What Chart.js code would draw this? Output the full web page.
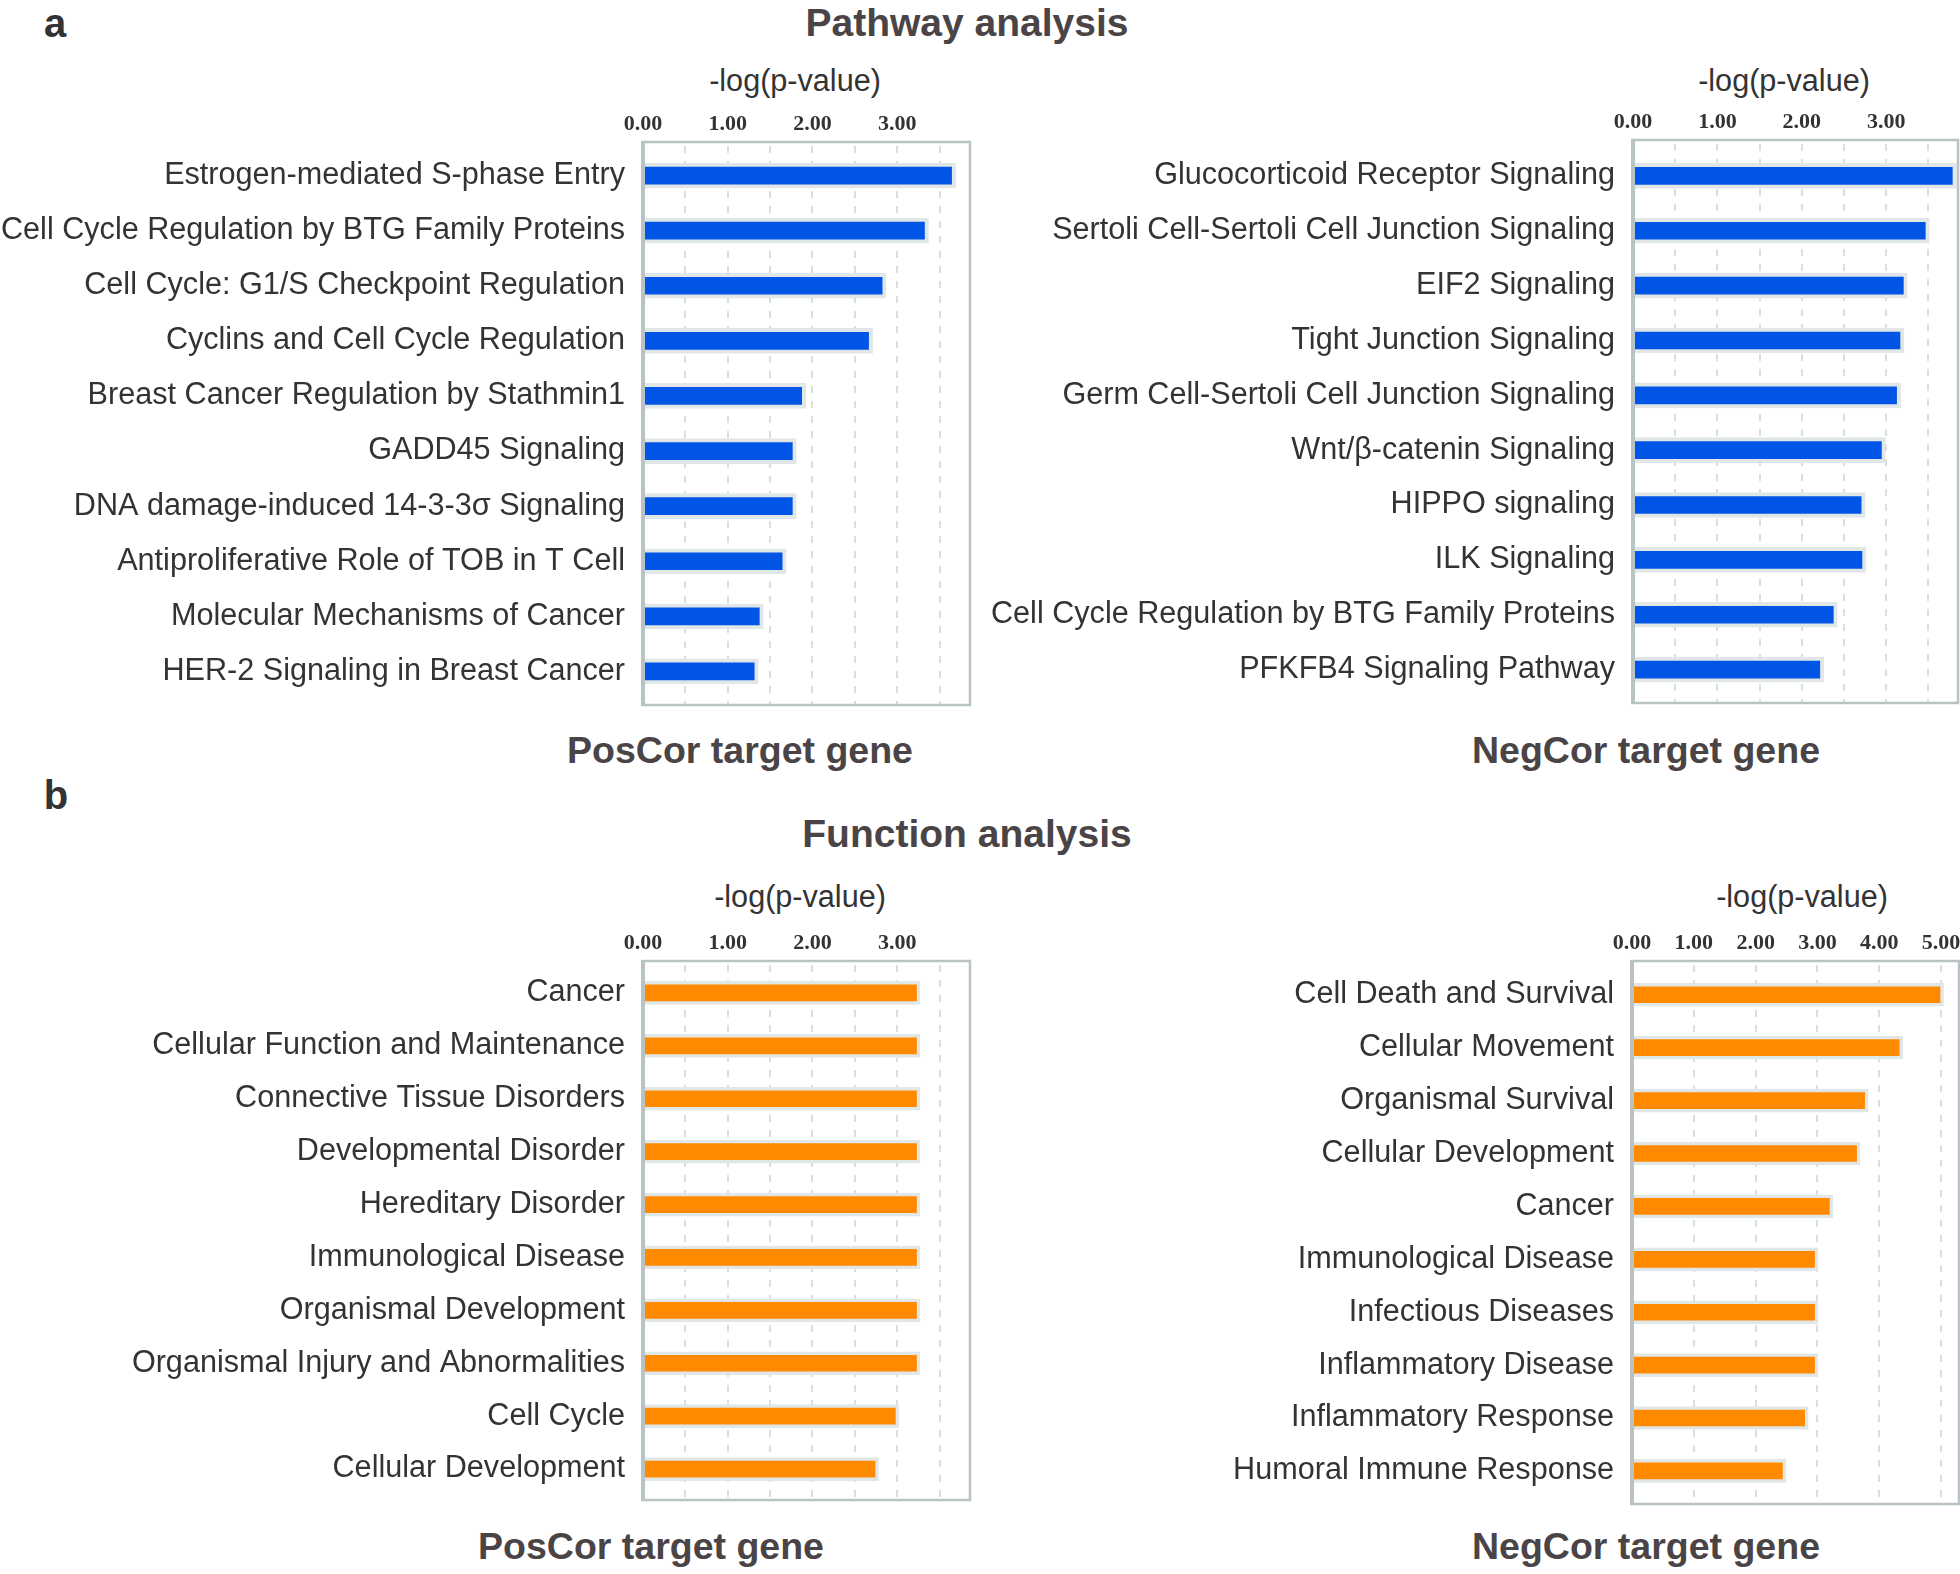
<!DOCTYPE html>
<html>
<head>
<meta charset="utf-8">
<script src="https://cdn.jsdelivr.net/npm/chart.js@4.4.1/dist/chart.umd.min.js"></script>
<style>
  body { margin: 0; background: #fff; }
  #page { position: relative; width: 1960px; height: 1574px; overflow: hidden; font-family: 'Liberation Sans', Arial, sans-serif; }
  canvas { position: absolute; }
  .txt { position: absolute; transform: translate(-50%, -50%); white-space: nowrap; color: #4a4446; font-weight: bold; }
  .panel { font-size: 40px; color: #333; }
  .head { font-size: 39px; }
  .sub { font-size: 37.5px; }
  .axt { font-size: 30.6px; font-weight: normal; color: #333; }
</style>
</head>
<body>
<div id="page">
  <div class="txt panel" style="left:55px;top:23px">a</div>
  <div class="txt head" style="left:967px;top:23px">Pathway analysis</div>
  <div class="txt axt" style="left:795px;top:80px">-log(p-value)</div>
  <div class="txt axt" style="left:1784px;top:80px">-log(p-value)</div>
  <div class="txt sub" style="left:740px;top:750px">PosCor target gene</div>
  <div class="txt sub" style="left:1646px;top:750px">NegCor target gene</div>
  <div class="txt panel" style="left:56px;top:795px">b</div>
  <div class="txt head" style="left:967px;top:834px">Function analysis</div>
  <div class="txt axt" style="left:800px;top:896px">-log(p-value)</div>
  <div class="txt axt" style="left:1802px;top:896px">-log(p-value)</div>
  <div class="txt sub" style="left:651px;top:1546px">PosCor target gene</div>
  <div class="txt sub" style="left:1646px;top:1546px">NegCor target gene</div>

  <canvas id="pathPos" width="980" height="680" style="left:0;top:40px"></canvas>
  <canvas id="pathNeg" width="980" height="680" style="left:980px;top:40px"></canvas>
  <canvas id="funcPos" width="980" height="660" style="left:0;top:860px"></canvas>
  <canvas id="funcNeg" width="980" height="660" style="left:980px;top:860px"></canvas>
</div>
<script>
'use strict';

// a: pathway analysis
const pathPosLabels = ['Estrogen-mediated S-phase Entry', 'Cell Cycle Regulation by BTG Family Proteins',
  'Cell Cycle: G1/S Checkpoint Regulation', 'Cyclins and Cell Cycle Regulation',
  'Breast Cancer Regulation by Stathmin1', 'GADD45 Signaling', 'DNA damage-induced 14-3-3σ Signaling',
  'Antiproliferative Role of TOB in T Cell', 'Molecular Mechanisms of Cancer', 'HER-2 Signaling in Breast Cancer'];
const pathPosValues = [3.69, 3.37, 2.87, 2.71, 1.92, 1.81, 1.81, 1.69, 1.42, 1.36];

const pathNegLabels = ['Glucocorticoid Receptor Signaling', 'Sertoli Cell-Sertoli Cell Junction Signaling',
  'EIF2 Signaling', 'Tight Junction Signaling', 'Germ Cell-Sertoli Cell Junction Signaling',
  'Wnt/β-catenin Signaling', 'HIPPO signaling', 'ILK Signaling',
  'Cell Cycle Regulation by BTG Family Proteins', 'PFKFB4 Signaling Pathway'];
const pathNegValues = [3.83, 3.51, 3.25, 3.21, 3.17, 2.99, 2.75, 2.76, 2.42, 2.26];

// b: function analysis
const funcPosLabels = ['Cancer', 'Cellular Function and Maintenance', 'Connective Tissue Disorders',
  'Developmental Disorder', 'Hereditary Disorder', 'Immunological Disease', 'Organismal Development',
  'Organismal Injury and Abnormalities', 'Cell Cycle', 'Cellular Development'];
const funcPosValues = [3.27, 3.27, 3.27, 3.27, 3.27, 3.27, 3.27, 3.27, 3.02, 2.78];

const funcNegLabels = ['Cell Death and Survival', 'Cellular Movement', 'Organismal Survival',
  'Cellular Development', 'Cancer', 'Immunological Disease', 'Infectious Diseases',
  'Inflammatory Disease', 'Inflammatory Response', 'Humoral Immune Response'];
const funcNegValues = [5.04, 4.38, 3.82, 3.69, 3.25, 3.01, 3.01, 3.01, 2.85, 2.49];

const BLUE = '#0055e6';
const ORANGE = '#ff8a00';
const sans = "'Liberation Sans', Arial, sans-serif";

// the box sits a few px outside the bar band, so grid + frame are drawn here
const framePlugin = {
  id: 'frame',
  beforeDatasetsDraw(chart, args, opts) {
    const a = chart.chartArea;
    const ctx = chart.ctx;
    const top = a.top - opts.insetTop, bottom = a.bottom + opts.insetBottom;
    const x = chart.scales.x;
    ctx.save();
    ctx.strokeStyle = '#d9dfdf';
    ctx.lineWidth = 2;
    ctx.setLineDash([7, 8]);
    x.ticks.forEach(t => {
      if (t.value === 0) return;
      const px = Math.round(x.getPixelForValue(t.value));
      ctx.beginPath();
      ctx.moveTo(px, top + 4);
      ctx.lineTo(px, bottom);
      ctx.stroke();
    });
    ctx.restore();
  },
  afterDraw(chart, args, opts) {
    const a = chart.chartArea;
    const ctx = chart.ctx;
    const top = a.top - opts.insetTop, bottom = a.bottom + opts.insetBottom;
    ctx.save();
    ctx.strokeStyle = '#b9c3c3';
    ctx.lineWidth = 2.5;
    ctx.strokeRect(a.left, top, a.right - a.left, bottom - top);
    ctx.lineWidth = 4;
    ctx.beginPath();
    ctx.moveTo(a.left, top - 1);
    ctx.lineTo(a.left, bottom + 1);
    ctx.stroke();
    ctx.restore();
  }
};

function makeChart(id, labels, values, color, p) {
  return new Chart(document.getElementById(id), {
    type: 'bar',
    data: {
      labels: labels,
      datasets: [{
        data: values,
        backgroundColor: color,
        borderColor: '#e1e6e6',
        borderWidth: p.border,
        borderSkipped: 'start',
        barThickness: p.thick
      }]
    },
    options: {
      indexAxis: 'y',
      responsive: false,
      animation: false,
      layout: { padding: { top: 0, left: 0, right: p.right, bottom: p.bottom } },
      plugins: {
        legend: { display: false },
        tooltip: { enabled: false },
        frame: { insetTop: p.insetTop, insetBottom: p.insetBottom }
      },
      scales: {
        x: {
          position: 'top',
          min: 0,
          max: p.max,
          grid: { display: false, drawTicks: false },
          border: { display: false },
          ticks: {
            stepSize: p.step,
            includeBounds: false,
            autoSkip: false,
            maxRotation: 0,
            padding: 4 + p.insetTop,
            color: '#333',
            font: { family: "'Liberation Serif', 'Times New Roman', serif", size: 22, weight: 'bold' },
            callback: v => Number.isInteger(v) ? v.toFixed(2) : ''
          },
          afterFit: s => { s.height = p.top; s.paddingLeft = 0; s.paddingRight = 0; }
        },
        y: {
          grid: { display: false, drawTicks: false },
          border: { display: false },
          ticks: {
            autoSkip: false,
            padding: 18,
            color: '#333',
            font: { family: sans, size: 30.6 }
          },
          afterFit: s => { s.width = p.left; s.paddingTop = 0; s.paddingBottom = 0; }
        }
      }
    },
    plugins: [framePlugin]
  });
}

// top = band top inside canvas, bottom = padding under band
makeChart('pathPos', pathPosLabels, pathPosValues, BLUE,
  { left: 643, top: 108, insetTop: 6, insetBottom: 6, right: 10, bottom: 21, max: 3.86, step: 0.5, thick: 25, border: 4 });
makeChart('pathNeg', pathNegLabels, pathNegValues, BLUE,
  { left: 653, top: 108.5, insetTop: 8.5, insetBottom: 6, right: 2, bottom: 23, max: 3.85, step: 0.5, thick: 25, border: 4 });
makeChart('funcPos', funcPosLabels, funcPosValues, ORANGE,
  { left: 643, top: 106.5, insetTop: 5.5, insetBottom: 4.5, right: 10, bottom: 24.5, max: 3.86, step: 0.5, thick: 23, border: 3.5 });
makeChart('funcNeg', funcNegLabels, funcNegValues, ORANGE,
  { left: 652, top: 108.3, insetTop: 7.3, insetBottom: 6.6, right: 1, bottom: 22.6, max: 5.29, step: 1, thick: 23, border: 3.5 });
</script>
</body>
</html>
